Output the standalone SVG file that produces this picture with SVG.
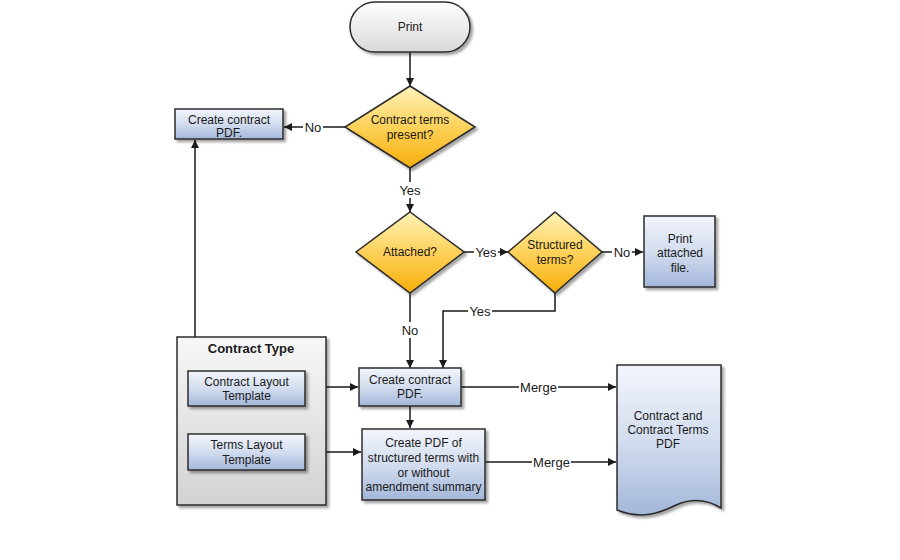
<svg xmlns="http://www.w3.org/2000/svg" width="900" height="560" viewBox="0 0 900 560">
<style>
text{font-family:"Liberation Sans",Arial,sans-serif;font-size:12px;fill:#1a1a1a;text-anchor:middle}
.lbl{font-size:13px}
.ttl{font-size:13px;font-weight:bold}
.box{fill:url(#gBlue);stroke:#2b2b2b;stroke-width:1.5}
.dia{fill:url(#gYel);stroke:#2b2b2b;stroke-width:1.5}
.shadow{filter:url(#sh)}
.ln{fill:none;stroke:#1a1a1a;stroke-width:1.5}
.arr{marker-end:url(#ah)}
.lb{fill:#ffffff}
</style>
<defs>
<linearGradient id="gBlue" x1="0" y1="0" x2="0" y2="1">
<stop offset="0" stop-color="#f2f5fb"/>
<stop offset="0.5" stop-color="#d3ddef"/>
<stop offset="1" stop-color="#a3b7da"/>
</linearGradient>
<linearGradient id="gYel" x1="0" y1="0" x2="0" y2="1">
<stop offset="0" stop-color="#fff3b8"/>
<stop offset="0.5" stop-color="#fdd15a"/>
<stop offset="1" stop-color="#f6ae0a"/>
</linearGradient>
<linearGradient id="gGray" x1="0" y1="0" x2="0" y2="1">
<stop offset="0" stop-color="#f7f7f7"/>
<stop offset="1" stop-color="#d2d2d2"/>
</linearGradient>
<linearGradient id="gTerm" x1="0" y1="0" x2="0" y2="1">
<stop offset="0" stop-color="#ffffff"/>
<stop offset="1" stop-color="#d9d9d9"/>
</linearGradient>
<filter id="sh" x="-10%" y="-10%" width="130%" height="130%">
<feDropShadow dx="2.5" dy="2.5" stdDeviation="1" flood-color="#000" flood-opacity="0.35"/>
</filter>
<marker id="ah" viewBox="0 0 10 10" refX="10" refY="5" markerWidth="8" markerHeight="8" markerUnits="userSpaceOnUse" orient="auto">
<path d="M0,0 L10,5 L0,10 z" fill="#1a1a1a"/>
</marker>
</defs>
<rect x="0" y="0" width="900" height="560" fill="#ffffff"/>

<g id="connectors">
<path class="ln arr" d="M410,52 V86"/>
<path class="ln arr" d="M345,127 H284"/>
<path class="ln arr" d="M410,168 V212"/>
<path class="ln arr" d="M464,252 H508"/>
<path class="ln arr" d="M602,252 H643"/>
<path class="ln arr" d="M555,293 V311 H443 V368"/>
<path class="ln arr" d="M410,293 V368"/>
<path class="ln arr" d="M195,371 V140"/>
<path class="ln arr" d="M305,387 H358"/>
<path class="ln arr" d="M305,452 H361"/>
<path class="ln arr" d="M410,406 V428"/>
<path class="ln arr" d="M461,387 H616"/>
<path class="ln arr" d="M485,462 H616"/>
<rect class="lb" x="303" y="119" width="20" height="16"/>
<text class="lbl" x="313" y="131.5">No</text>
<rect class="lb" x="398" y="182" width="24" height="16"/>
<text class="lbl" x="410" y="194.5">Yes</text>
<rect class="lb" x="474" y="244" width="24" height="16"/>
<text class="lbl" x="486" y="256.5">Yes</text>
<rect class="lb" x="612" y="244" width="20" height="16"/>
<text class="lbl" x="622" y="256.5">No</text>
<rect class="lb" x="468" y="303" width="24" height="16"/>
<text class="lbl" x="480" y="315.5">Yes</text>
<rect class="lb" x="400" y="322" width="20" height="16"/>
<text class="lbl" x="410" y="334.5">No</text>
<rect class="lb" x="519" y="379" width="39" height="16"/>
<text class="lbl" x="538.5" y="391.5">Merge</text>
<rect class="lb" x="532" y="454" width="39" height="16"/>
<text class="lbl" x="551.5" y="466.5">Merge</text>
</g>

<g id="print">
<rect class="shadow" x="350" y="2" width="120" height="50" rx="25" fill="url(#gTerm)" stroke="#2b2b2b" stroke-width="1.5"/>
<text x="410" y="30.5">Print</text>
</g>

<g id="contract-terms-present">
<polygon class="dia shadow" points="410,86 475,127 410,168 345,127"/>
<text x="410" y="124">Contract terms</text>
<text x="410" y="138.5">present?</text>
</g>

<g id="create-contract-pdf-top">
<rect class="box shadow" x="175" y="109" width="108" height="30"/>
<text x="229" y="123.5">Create contract</text>
<text x="229" y="136.5">PDF.</text>
</g>

<g id="attached">
<polygon class="dia shadow" points="410,212 464,252 410,293 356,252"/>
<text x="410" y="256">Attached?</text>
</g>

<g id="structured-terms">
<polygon class="dia shadow" points="555,212 602,252 555,293 508,252"/>
<text x="555" y="249">Structured</text>
<text x="555" y="264">terms?</text>
</g>

<g id="print-attached-file">
<rect class="box shadow" x="644" y="216" width="71" height="71"/>
<text x="680" y="242.5">Print</text>
<text x="680" y="257">attached</text>
<text x="680" y="271.5">file.</text>
</g>

<g id="contract-type">
<rect class="shadow" x="177" y="337" width="149" height="168" fill="url(#gGray)" stroke="#2b2b2b" stroke-width="1.5"/>
<text class="ttl" x="251" y="353">Contract Type</text>
</g>

<g id="contract-layout-template">
<rect class="box shadow" x="188" y="371" width="117" height="35"/>
<text x="246.5" y="385.5">Contract Layout</text>
<text x="246.5" y="399.5">Template</text>
</g>

<g id="terms-layout-template">
<rect class="box shadow" x="188" y="434" width="117" height="36"/>
<text x="246.5" y="449">Terms Layout</text>
<text x="246.5" y="464">Template</text>
</g>

<g id="create-contract-pdf">
<rect class="box shadow" x="359" y="368" width="102" height="38"/>
<text x="410" y="384">Create contract</text>
<text x="410" y="398">PDF.</text>
</g>

<g id="create-pdf-structured">
<rect class="box shadow" x="362" y="429" width="123" height="71"/>
<text x="423.5" y="447">Create PDF of</text>
<text x="423.5" y="462">structured terms with</text>
<text x="423.5" y="476.5">or without</text>
<text x="423.5" y="491">amendment summary</text>
</g>

<g id="contract-terms-pdf">
<path class="box shadow" d="M617,365 H721 V508 C708,500 692,498 676,505 C660,513 642,520 617,510 Z"/>
<text x="668" y="420">Contract and</text>
<text x="668" y="434">Contract Terms</text>
<text x="668" y="448">PDF</text>
</g>
</svg>
